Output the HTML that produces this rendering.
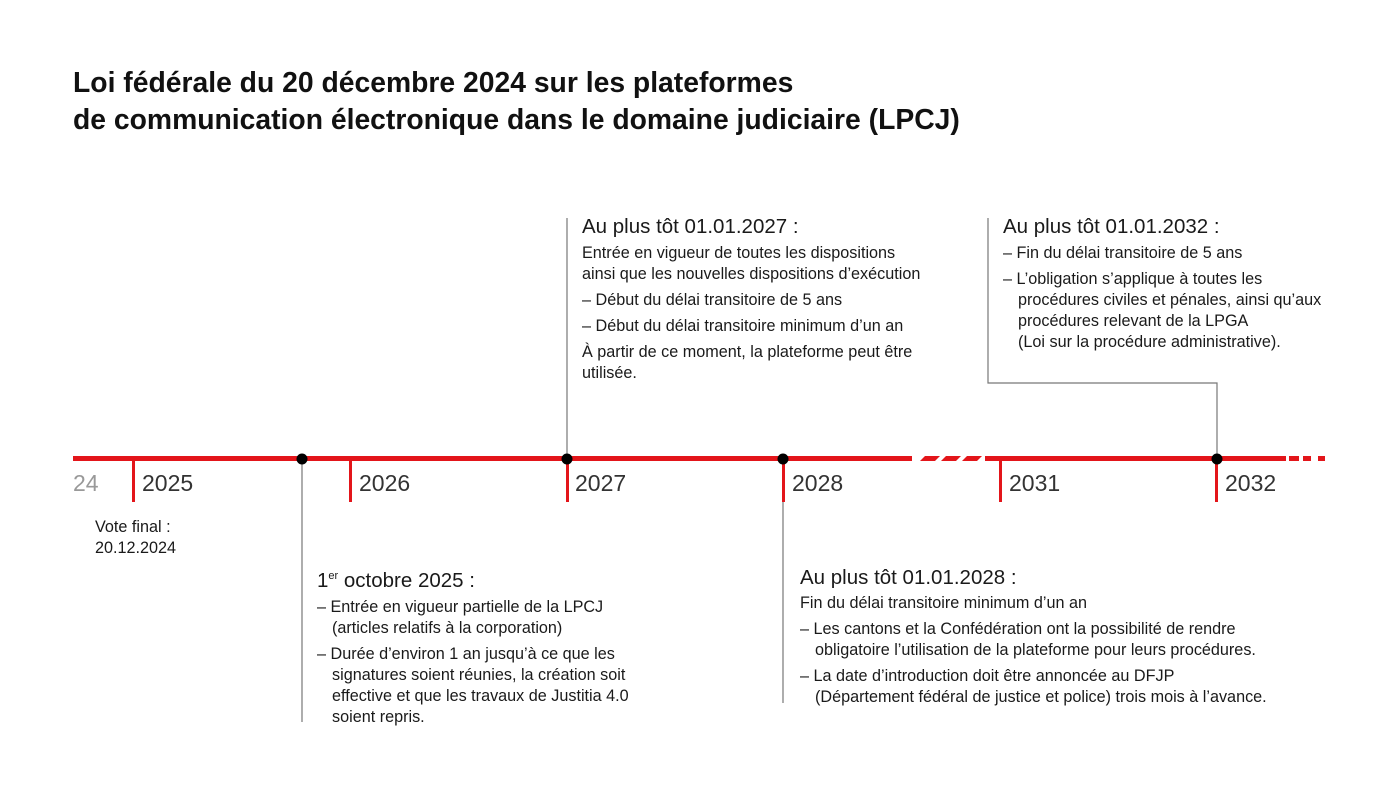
<!DOCTYPE html>
<html><head><meta charset="utf-8"><style>
body{margin:0;width:1400px;height:787px;background:#fff;position:relative;overflow:hidden;font-family:"Liberation Sans",sans-serif;color:#1a1a1a}
.t{position:absolute;white-space:nowrap}
h1{position:absolute;left:73px;top:64px;margin:0;font-size:28.3px;line-height:37px;font-weight:bold;color:#111}
.h{font-size:20.5px;line-height:24px}
.b{font-size:16.2px;line-height:21px}
.b div{margin-top:5px}
.yr{position:absolute;top:470px;font-size:23px;color:#333}
.ind{padding-left:15px}
</style></head><body>
<h1>Loi fédérale du 20 décembre 2024 sur les plateformes<br>de communication électronique dans le domaine judiciaire (LPCJ)</h1>
<svg width="1400" height="787" style="position:absolute;left:0;top:0">
<g stroke="#777" stroke-width="1.2" fill="none">
<line x1="302" y1="458" x2="302" y2="722"/>
<line x1="567" y1="218" x2="567" y2="458"/>
<line x1="783" y1="458" x2="783" y2="703"/>
<polyline points="1217,458 1217,383 988,383 988,218"/>
</g>
<g fill="#e3151a">
<rect x="73" y="456" width="839" height="5"/>
<polygon points="920,461 925,456 940,456 935,461"/>
<polygon points="941,461 946,456 961,456 956,461"/>
<polygon points="962,461 967,456 982,456 977,461"/>
<rect x="985" y="456" width="301" height="5"/>
<rect x="1289" y="456" width="10" height="5"/>
<rect x="1303" y="456" width="8" height="5"/>
<rect x="1318" y="456" width="7" height="5"/>
<rect x="132" y="458" width="3" height="44"/>
<rect x="349" y="458" width="3" height="44"/>
<rect x="566" y="458" width="3" height="44"/>
<rect x="782" y="458" width="3" height="44"/>
<rect x="999" y="458" width="3" height="44"/>
<rect x="1215" y="458" width="3" height="44"/>
</g>
<g fill="#000"><circle cx="302" cy="459" r="5.5"/><circle cx="567" cy="459" r="5.5"/><circle cx="783" cy="459" r="5.5"/><circle cx="1217" cy="459" r="5.5"/></g>
</svg>
<div class="yr" style="left:73px;color:#999">24</div>
<div class="yr" style="left:142px">2025</div>
<div class="yr" style="left:359px">2026</div>
<div class="yr" style="left:575px">2027</div>
<div class="yr" style="left:792px">2028</div>
<div class="yr" style="left:1009px">2031</div>
<div class="yr" style="left:1225px">2032</div>
<div class="t b" style="left:95px;top:517px">Vote final :<br>20.12.2024</div>
<div class="t" style="left:582px;top:215px"><div class="h">Au plus tôt 01.01.2027 :</div><div class="b"><div style="margin-top:4px">Entrée en vigueur de toutes les dispositions<br>ainsi que les nouvelles dispositions d’exécution</div><div>– Début du délai transitoire de 5 ans</div><div>– Début du délai transitoire minimum d’un an</div><div>À partir de ce moment, la plateforme peut être<br>utilisée.</div></div></div>
<div class="t" style="left:1003px;top:215px"><div class="h">Au plus tôt 01.01.2032 :</div><div class="b"><div style="margin-top:4px">– Fin du délai transitoire de 5 ans</div><div>– L’obligation s’applique à toutes les<br><span class="ind">procédures civiles et pénales, ainsi qu’aux</span><br><span class="ind">procédures relevant de la LPGA</span><br><span class="ind">(Loi sur la procédure administrative).</span></div></div></div>
<div class="t" style="left:317px;top:564px"><div class="h">1<sup style="font-size:11px">er</sup> octobre 2025 :</div><div class="b"><div style="margin-top:4px">– Entrée en vigueur partielle de la LPCJ<br><span class="ind">(articles relatifs à la corporation)</span></div><div>– Durée d’environ 1 an jusqu’à ce que les<br><span class="ind">signatures soient réunies, la création soit</span><br><span class="ind">effective et que les travaux de Justitia 4.0</span><br><span class="ind">soient repris.</span></div></div></div>
<div class="t" style="left:800px;top:566px"><div class="h">Au plus tôt 01.01.2028 :</div><div class="b"><div style="margin-top:3px">Fin du délai transitoire minimum d’un an</div><div>– Les cantons et la Confédération ont la possibilité de rendre<br><span class="ind">obligatoire l’utilisation de la plateforme pour leurs procédures.</span></div><div>– La date d’introduction doit être annoncée au DFJP<br><span class="ind">(Département fédéral de justice et police) trois mois à l’avance.</span></div></div></div>
</body></html>
